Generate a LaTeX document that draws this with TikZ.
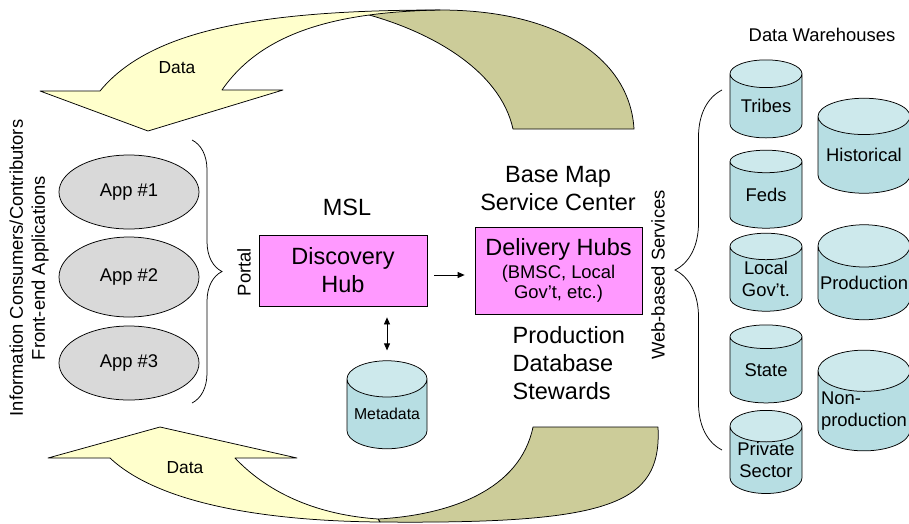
\documentclass[tikz,border=0pt]{standalone}
\usepackage{fontspec}
\setmainfont{Liberation Sans}
\usetikzlibrary{arrows.meta,positioning,calc,shapes.geometric,decorations.pathreplacing}
\definecolor{hubpink}{HTML}{FF99FF}
\definecolor{appgray}{HTML}{D9D9D9}
\definecolor{dbblue}{HTML}{B7DEE3}
\definecolor{dbtop}{HTML}{CDE9EC}
\definecolor{flowyel}{HTML}{FFFFCC}
\definecolor{flowolv}{HTML}{CCCC99}

\begin{document}
\begin{tikzpicture}[x=1pt,y=-1pt,line width=0.75pt,>={Triangle[length=7pt,width=6pt]},
  every node/.style={font=\fontsize{18.4}{22}\selectfont},
  lbl/.style={font=\fontsize{23.5}{28}\selectfont,align=center},
  app/.style={ellipse,draw,fill=appgray,minimum width=140,minimum height=74},
  hub/.style={draw,fill=hubpink,align=center,inner sep=0pt},
  db/.style={cylinder,shape border rotate=90,draw,aspect=0.55,cylinder uses custom fill,
    cylinder body fill=dbblue,cylinder end fill=dbtop,minimum width=72,minimum height=78,
    align=center,inner sep=0pt},
  bigdb/.style={db,aspect=0.48,minimum width=92,minimum height=95},
  flow/.style={draw,line join=round},
  brc/.style={draw,decorate,decoration={brace,amplitude=#1}}]
\useasboundingbox (0,0) rectangle (909,523);

% data flowing back to the front end (upper and lower ribbons)
\path[flow,fill=flowolv] (358,12) -- (440,10) .. controls (560,10) and (630,60) .. (634,129)
  -- (513,129) .. controls (500,70) and (430,30) .. (358,12) -- cycle;
\path[flow,fill=flowyel] (40,91) -- (148,131) -- (283,90) -- (222,90)
  .. controls (260,35) and (330,12) .. (440,10) .. controls (260,10) and (150,30) .. (100,91) -- cycle;
\path[flow,fill=flowolv] (378,519) .. controls (450,515) and (520,490) .. (533,427) -- (658,427)
  .. controls (662,505) and (610,524) .. (380,522) -- cycle;
\path[flow,fill=flowyel] (160,427) -- (297,458) -- (235,458) .. controls (270,495) and (320,515) .. (378,519)
  -- (380,522) .. controls (270,521) and (160,505) .. (110,458) -- (48,458) -- cycle;
\node[font=\fontsize{17.4}{20}\selectfont] (dtop) at (177,68) {Data};
\node[font=\fontsize{17.4}{20}\selectfont] (dbot) at (185,468) {Data};

% front-end applications
\node[rotate=90,align=center] (users) at (29,268) {Information Consumers/Contributors\\Front-end Applications};
\node[app] (app1) at (129,192) {App \#1};
\node[app,minimum height=80] (app2) at (129,277) {App \#2};
\node[app] (app3) at (129,363) {App \#3};
\draw[brc=30pt] (192,140) -- (192,403);
\node[rotate=90] (portal) at (244,272) {Portal};

% hubs
\node[lbl] (msl) at (347,207) {MSL};
\node[hub,lbl,minimum width=168,minimum height=71] (disc) at (343,270.5) {Discovery\\Hub};
\node[lbl] (bmsc) at (558,189) {Base Map\\Service Center};
\node[hub,minimum width=167,minimum height=87,font=\fontsize{18.4}{20}\selectfont] (deliv) at (558.5,270.5)
  {{\fontsize{23.5}{28}\selectfont Delivery Hubs}\\[3pt](BMSC, Local\\Gov’t, etc.)};
\node[lbl,align=left,anchor=west] (stew) at (509,363) {Production\\Database\\Stewards};
\node[db,minimum width=80,minimum height=88,font=\fontsize{15.8}{19}\selectfont] (meta) at (387,414) {Metadata};
\draw[->,shorten <=7pt,shorten >=10pt] ([yshift=-4.5pt]disc.east) -- ([yshift=-4.5pt]deliv.west);
\draw[<->,shorten <=11pt,shorten >=10pt] (meta.north |- disc.south) -- (meta.north);

% warehouses
\node[rotate=90] (web) at (658,275) {Web-based Services};
\draw[brc=47pt] (722,450) -- (722,90);
\node (dw) at (822,35) {Data Warehouses};
\node[db] (tribes) at (766,106) {Tribes};
\node[db] (feds) at (766,195) {Feds};
\node[db] (local) at (766,279) {Local\\Gov’t.};
\node[db] (state) at (766,370) {State};
\node[db] (priv) at (766,460) {Private\\Sector};
\node[bigdb] (hist) at (864,155) {Historical};
\node[bigdb] (prod) at (864,283) {Production};
\node[bigdb,align=left] (nonprod) at (864,411) {Non-\\production};
\end{tikzpicture}
\end{document}
